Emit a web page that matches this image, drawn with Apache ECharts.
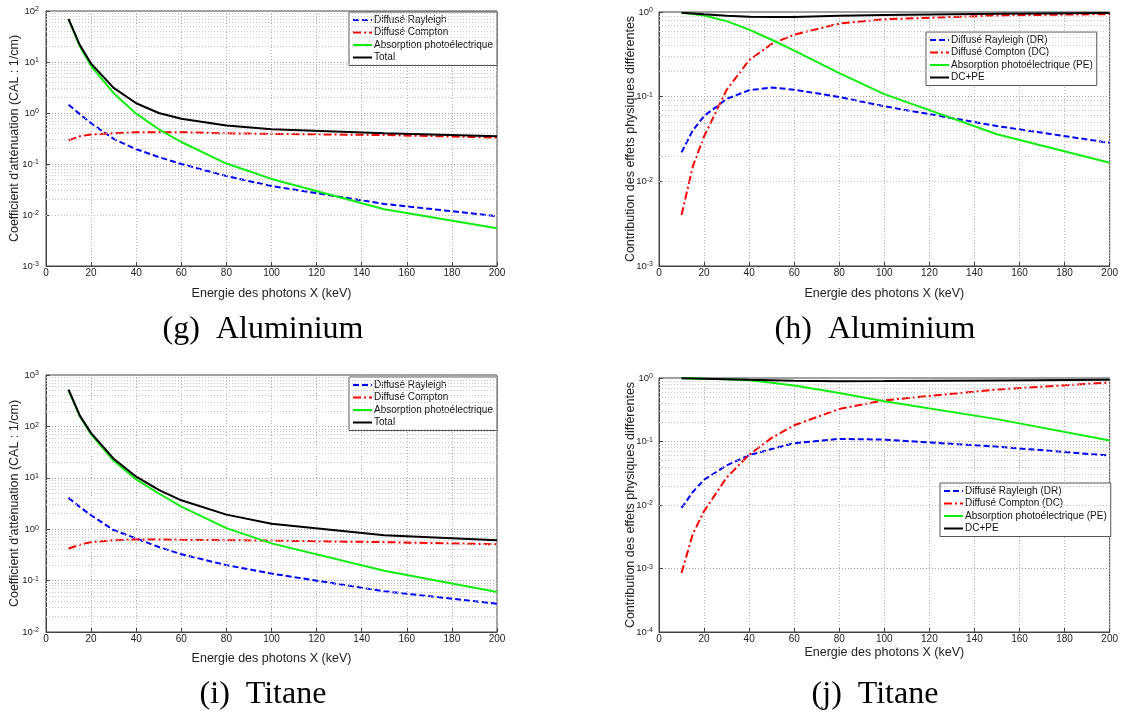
<!DOCTYPE html>
<html>
<head>
<meta charset="utf-8">
<script src="https://cdn.jsdelivr.net/npm/echarts@6/dist/echarts.min.js"></script>
<style>html,body{margin:0;padding:0;background:#fff;}#c{width:1121px;height:718px;}</style>
</head>
<body>
<div id="c"></div>
<script>
// Photon energies (keV)
const energies = [10, 15, 20, 30, 40, 50, 60, 80, 100, 150, 200];
const xTicks = [0, 20, 40, 60, 80, 100, 120, 140, 160, 180, 200];

// (g) Aluminium - attenuation coefficients (1/cm)
const alRayleigh = [1.45, 0.95, 0.63, 0.31, 0.195, 0.137, 0.10, 0.058, 0.037, 0.0165, 0.0095];
const alCompton  = [0.29, 0.35, 0.38, 0.40, 0.42, 0.42, 0.42, 0.40, 0.39, 0.37, 0.33];
const alPhoto    = [68.5, 20.2, 8.35, 2.45, 0.97, 0.48, 0.27, 0.102, 0.051, 0.013, 0.0055];
const alTotal    = [70, 21.5, 9.3, 3.1, 1.55, 1.0, 0.77, 0.57, 0.48, 0.40, 0.35];

// (h) Aluminium - contributions
const alDR   = [0.022, 0.040, 0.059, 0.094, 0.119, 0.128, 0.121, 0.099, 0.077, 0.045, 0.0285];
const alDC   = [0.0040, 0.0150, 0.034, 0.12, 0.27, 0.42, 0.54, 0.73, 0.82, 0.91, 0.945];
const alPE   = [0.98, 0.95, 0.91, 0.78, 0.62, 0.47, 0.35, 0.19, 0.107, 0.036, 0.0166];
const alDCPE = [0.978, 0.96, 0.94, 0.906, 0.88, 0.872, 0.875, 0.90, 0.923, 0.955, 0.972];

// (i) Titane - attenuation coefficients (1/cm)
const tiRayleigh = [4.07, 2.7, 1.87, 0.96, 0.66, 0.45, 0.326, 0.2, 0.137, 0.062, 0.0356];
const tiCompton  = [0.42, 0.5, 0.56, 0.61, 0.63, 0.63, 0.62, 0.61, 0.60, 0.56, 0.51];
const tiPhoto    = [495, 157, 70, 21.4, 9.3, 4.95, 2.75, 1.05, 0.53, 0.155, 0.06];
const tiTotal    = [520, 162, 74, 23.5, 10.5, 5.8, 3.65, 1.92, 1.28, 0.76, 0.61];

// (j) Titane - contributions
const tiDR   = [0.009, 0.016, 0.025, 0.042, 0.061, 0.076, 0.094, 0.11, 0.107, 0.083, 0.06];
const tiDC   = [0.00085, 0.0035, 0.008, 0.027, 0.062, 0.114, 0.18, 0.325, 0.445, 0.66, 0.85];
const tiPE   = [0.99, 0.98, 0.97, 0.955, 0.92, 0.84, 0.76, 0.58, 0.43, 0.225, 0.104];
const tiDCPE = [0.991, 0.984, 0.975, 0.958, 0.939, 0.924, 0.906, 0.89, 0.893, 0.917, 0.94];

// Labels
const namesAtt = ['Diffusé Rayleigh', 'Diffusé Compton', 'Absorption photoélectrique', 'Total'];
const namesCon = ['Diffusé Rayleigh (DR)', 'Diffusé Compton (DC)', 'Absorption photoélectrique (PE)', 'DC+PE'];
const xName = 'Energie des photons X (keV)';
const yNameAtt = "Coefficient d'atténuation (CAL : 1/cm)";
const yNameCon = 'Contribution des effets physiques différentes';
const captions = ['(g)  Aluminium', '(h)  Aluminium', '(i)  Titane', '(j)  Titane'];
const yRanges = [[-3, 2], [-3, 0], [-2, 3], [-4, 0]];

const FONT = '"Liberation Sans", Arial, Helvetica, sans-serif';
const styles = [
  {color: '#0000ff', type: [6, 3]},
  {color: '#ff0000', type: [8, 3, 2, 3]},
  {color: '#10ee10', type: 'solid'},
  {color: '#000000', type: 'solid'}
];

const grids = [
  {left: 46, top: 11, width: 451, height: 255},
  {left: 659, top: 12, width: 451, height: 254},
  {left: 46, top: 375, width: 451, height: 257},
  {left: 659, top: 378, width: 451, height: 254}
];
const xNameGaps = [21, 21, 20, 14];
const yNameGaps = [25, 22, 25, 22];
const yLabelMargins = [7, 6, 7, 6];
const legendPos = [
  {left: 349, top: 12},
  {left: 926, top: 32},
  {left: 349, top: 377},
  {left: 940, top: 483}
];
const captionPos = [[263, 330], [875, 330], [263, 695], [875, 695]];

const panelData = [
  [alRayleigh, alCompton, alPhoto, alTotal],
  [alDR, alDC, alPE, alDCPE],
  [tiRayleigh, tiCompton, tiPhoto, tiTotal],
  [tiDR, tiDC, tiPE, tiDCPE]
];
const panelNames = [namesAtt, namesCon, namesAtt, namesCon];
const panelYNames = [yNameAtt, yNameCon, yNameAtt, yNameCon];

function minorValues(lo, hi) {
  const out = [];
  for (let k = lo; k < hi; k++) for (let m = 2; m <= 9; m++) out.push({yAxis: m * Math.pow(10, k)});
  return out;
}

const xAxes = [], yAxes = [], series = [], legends = [], graphics = [];
grids.forEach((g, p) => {
  xAxes.push({
    gridIndex: p, type: 'value', min: 0, max: 200, interval: 20,
    name: xName, nameLocation: 'middle', nameGap: xNameGaps[p], nameMoveOverlap: false,
    nameTextStyle: {fontFamily: FONT, fontSize: 12.5, color: '#222'},
    axisLine: {show: true, onZero: false, lineStyle: {color: '#444'}},
    axisTick: {show: true, inside: true, length: 4, lineStyle: {color: '#444'}},
    axisLabel: {fontFamily: FONT, fontSize: 10, color: '#222', margin: 2,
      formatter: v => xTicks.indexOf(v) >= 0 ? String(v) : ''},
    splitLine: {show: true, lineStyle: {color: '#b0b0b0', type: [1, 2]}}
  });
  const [lo, hi] = yRanges[p];
  yAxes.push({
    gridIndex: p, type: 'log', logBase: 10, min: Math.pow(10, lo), max: Math.pow(10, hi),
    name: panelYNames[p], nameLocation: 'middle', nameGap: yNameGaps[p], nameRotate: 90,
    nameMoveOverlap: false,
    nameTextStyle: {fontFamily: FONT, fontSize: 12.5, color: '#222'},
    axisLine: {show: true, lineStyle: {color: '#444'}},
    axisTick: {show: true, inside: true, length: 4, lineStyle: {color: '#444'}},
    axisLabel: {margin: yLabelMargins[p], color: '#222',
      formatter: v => '{b|10}{s|' + Math.round(Math.log10(v)) + '}',
      rich: {b: {fontFamily: FONT, fontSize: 9.5, color: '#222'},
             s: {fontFamily: FONT, fontSize: 7, color: '#222', verticalAlign: 'top'}}},
    splitLine: {show: true, lineStyle: {color: '#a0a0a0', type: [1, 2]}}
  });
  // minor log grid lines
  series.push({
    type: 'line', name: 'minor' + p, xAxisIndex: p, yAxisIndex: p, data: [],
    silent: true, z: 1,
    markLine: {silent: true, symbol: ['none', 'none'], label: {show: false},
      lineStyle: {color: '#c4c4c4', type: [1, 2], width: 1}, emphasis: {disabled: true},
      data: minorValues(lo, hi)}
  });
  panelData[p].forEach((arr, s) => {
    series.push({
      type: 'line', name: panelNames[p][s], xAxisIndex: p, yAxisIndex: p,
      data: energies.map((e, i) => [e, arr[i]]),
      symbol: 'none', showSymbol: false, z: 3 + s,
      lineStyle: {width: 2, color: styles[s].color, type: styles[s].type},
      itemStyle: {color: styles[s].color}
    });
  });
  legends.push(Object.assign({
    data: panelNames[p], orient: 'vertical', backgroundColor: '#fff',
    borderColor: '#555', borderWidth: 1, padding: [3, 4, 3, 3], itemGap: 2.5,
    itemWidth: 19, itemHeight: 11, selectedMode: false,
    itemStyle: {opacity: 0},
    textStyle: {fontFamily: FONT, fontSize: 10, color: '#111', padding: [0, 0, 0, -3]}
  }, legendPos[p]));
  graphics.push({
    type: 'text', x: captionPos[p][0], y: captionPos[p][1],
    style: {text: captions[p], font: '32px "Liberation Serif", "DejaVu Serif", serif',
      fill: '#000', textAlign: 'center', textVerticalAlign: 'middle'}
  });
});

const chart = echarts.init(document.getElementById('c'), null, {renderer: 'canvas'});
chart.setOption({
  animation: false,
  backgroundColor: '#fff',
  grid: grids.map(g => Object.assign({show: true, backgroundColor: '#fff', borderColor: '#444', borderWidth: 1}, g)),
  xAxis: xAxes, yAxis: yAxes, series: series, legend: legends, graphic: graphics
});
</script>
</body>
</html>
